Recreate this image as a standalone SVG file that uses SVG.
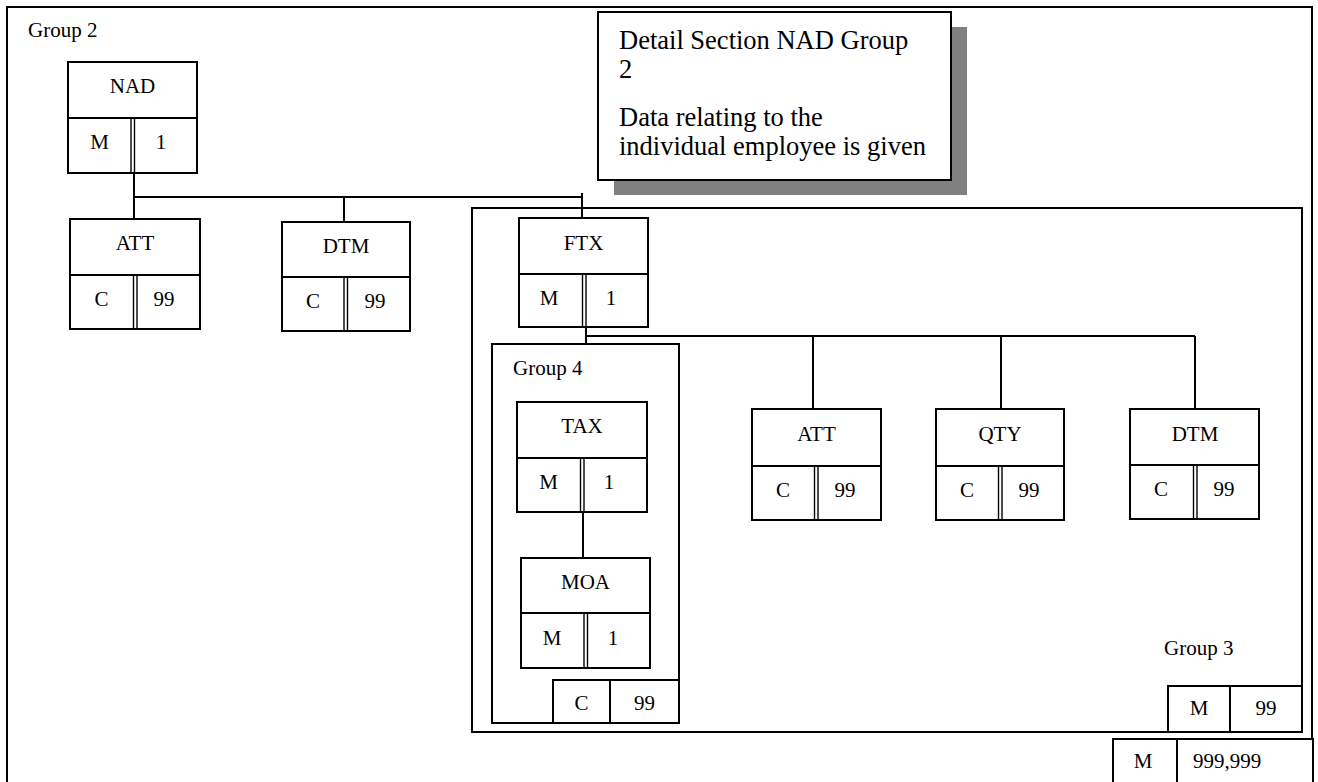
<svg xmlns="http://www.w3.org/2000/svg" width="1318" height="782" viewBox="0 0 1318 782">
<style>
.b{fill:#fff;stroke:#000;stroke-width:2}
.l{fill:none;stroke:#000;stroke-width:2}
.d{fill:none;stroke:#000;stroke-width:1.4}
text{font-family:"Liberation Serif","Times New Roman",serif;font-size:21px;fill:#000}
.c{text-anchor:middle}
.n{font-size:26.5px}
</style>
<rect width="1318" height="782" fill="#fff"/>
<rect class="l" x="7" y="7" width="1305" height="800"/>
<text x="28" y="37">Group 2</text>
<g id="group3">
<rect class="l" x="472" y="208" width="830" height="524"/>
<text x="1164" y="655">Group 3</text>
<rect class="b" x="1168" y="686" width="134" height="46"/>
<line class="l" x1="1230" y1="686" x2="1230" y2="732"/>
<text class="c" x="1199" y="715">M</text>
<text class="c" x="1266" y="715">99</text>
</g>
<g id="group4">
<rect class="l" x="492" y="344" width="187" height="379"/>
<text x="513" y="375">Group 4</text>
<rect class="b" x="553" y="680" width="126" height="43"/>
<line class="l" x1="610" y1="680" x2="610" y2="723"/>
<text class="c" x="581.5" y="710">C</text>
<text class="c" x="644.5" y="710">99</text>
</g>
<g id="connectors">
<line class="l" x1="134" y1="173" x2="134" y2="219"/>
<line class="l" x1="134" y1="197" x2="581" y2="197"/>
<line class="l" x1="582" y1="193" x2="582" y2="218"/>
<line class="l" x1="344" y1="197" x2="344" y2="222"/>
<line class="l" x1="586" y1="327" x2="586" y2="344"/>
<line class="l" x1="586" y1="336" x2="1195" y2="336"/>
<line class="l" x1="813" y1="336" x2="813" y2="409"/>
<line class="l" x1="1001" y1="336" x2="1001" y2="409"/>
<line class="l" x1="1195" y1="336" x2="1195" y2="409"/>
<line class="l" x1="583" y1="512" x2="583" y2="558"/>
</g>
<g id="note">
<rect x="614" y="27" width="353" height="168" fill="#808080"/>
<rect class="b" x="598" y="12" width="353" height="168"/>
<text class="n" x="619" y="49">Detail Section NAD Group</text>
<text class="n" x="619" y="78">2</text>
<text class="n" x="619" y="126">Data relating to the</text>
<text class="n" x="619" y="155">individual employee is given</text>
</g>
<g id="nad">
<rect class="b" x="68" y="62" width="129" height="111"/>
<line class="l" x1="68" y1="118" x2="197" y2="118"/>
<line class="d" x1="131" y1="118" x2="131" y2="173"/><line class="d" x1="134.5" y1="118" x2="134.5" y2="173"/>
<text class="c" x="132.5" y="93">NAD</text>
<text class="c" x="99.5" y="149">M</text>
<text class="c" x="161" y="149">1</text>
</g>
<g id="att1">
<rect class="b" x="70" y="219" width="130" height="110"/>
<line class="l" x1="70" y1="275" x2="200" y2="275"/>
<line class="d" x1="133.5" y1="275" x2="133.5" y2="329"/><line class="d" x1="137" y1="275" x2="137" y2="329"/>
<text class="c" x="135" y="250">ATT</text>
<text class="c" x="101.5" y="306">C</text>
<text class="c" x="164" y="306">99</text>
</g>
<g id="dtm1">
<rect class="b" x="282" y="222" width="128" height="109"/>
<line class="l" x1="282" y1="277" x2="410" y2="277"/>
<line class="d" x1="344" y1="277" x2="344" y2="331"/><line class="d" x1="347.5" y1="277" x2="347.5" y2="331"/>
<text class="c" x="346" y="253">DTM</text>
<text class="c" x="313" y="308">C</text>
<text class="c" x="375" y="308">99</text>
</g>
<g id="ftx">
<rect class="b" x="519" y="218" width="129" height="109"/>
<line class="l" x1="519" y1="274" x2="648" y2="274"/>
<line class="d" x1="582.5" y1="274" x2="582.5" y2="327"/><line class="d" x1="586" y1="274" x2="586" y2="327"/>
<text class="c" x="583.5" y="250">FTX</text>
<text class="c" x="549" y="305">M</text>
<text class="c" x="611" y="305">1</text>
</g>
<g id="tax">
<rect class="b" x="517" y="402" width="130" height="110"/>
<line class="l" x1="517" y1="458" x2="647" y2="458"/>
<line class="d" x1="580.5" y1="458" x2="580.5" y2="512"/><line class="d" x1="584" y1="458" x2="584" y2="512"/>
<text class="c" x="582" y="433">TAX</text>
<text class="c" x="548.5" y="489">M</text>
<text class="c" x="609" y="489">1</text>
</g>
<g id="moa">
<rect class="b" x="521" y="558" width="129" height="110"/>
<line class="l" x1="521" y1="613" x2="650" y2="613"/>
<line class="d" x1="584" y1="613" x2="584" y2="668"/><line class="d" x1="587.5" y1="613" x2="587.5" y2="668"/>
<text class="c" x="585.5" y="589">MOA</text>
<text class="c" x="552" y="645">M</text>
<text class="c" x="613" y="645">1</text>
</g>
<g id="att2">
<rect class="b" x="752" y="409" width="129" height="111"/>
<line class="l" x1="752" y1="466" x2="881" y2="466"/>
<line class="d" x1="814.5" y1="466" x2="814.5" y2="520"/><line class="d" x1="818" y1="466" x2="818" y2="520"/>
<text class="c" x="816.5" y="441">ATT</text>
<text class="c" x="783" y="497">C</text>
<text class="c" x="845" y="497">99</text>
</g>
<g id="qty">
<rect class="b" x="936" y="409" width="128" height="111"/>
<line class="l" x1="936" y1="466" x2="1064" y2="466"/>
<line class="d" x1="998.5" y1="466" x2="998.5" y2="520"/><line class="d" x1="1002" y1="466" x2="1002" y2="520"/>
<text class="c" x="1000" y="441">QTY</text>
<text class="c" x="967" y="497">C</text>
<text class="c" x="1029" y="497">99</text>
</g>
<g id="dtm2">
<rect class="b" x="1130" y="409" width="129" height="110"/>
<line class="l" x1="1130" y1="465" x2="1259" y2="465"/>
<line class="d" x1="1193.5" y1="465" x2="1193.5" y2="519"/><line class="d" x1="1197" y1="465" x2="1197" y2="519"/>
<text class="c" x="1195" y="441">DTM</text>
<text class="c" x="1161" y="496">C</text>
<text class="c" x="1224" y="496">99</text>
</g>
<g id="group2occ">
<rect class="b" x="1113" y="739" width="200" height="60"/>
<line class="l" x1="1177" y1="739" x2="1177" y2="799"/>
<text class="c" x="1143" y="768">M</text>
<text x="1193" y="768">999,999</text>
</g>
</svg>
